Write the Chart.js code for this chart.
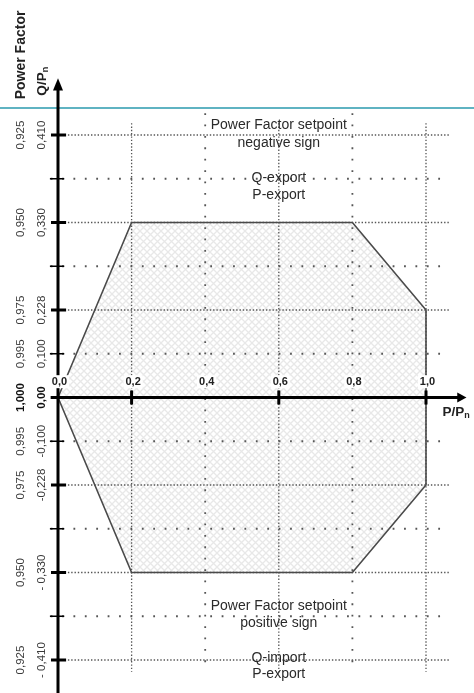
<!DOCTYPE html>
<html><head><meta charset="utf-8">
<script src="https://cdn.jsdelivr.net/npm/chart.js@4.4.1/dist/chart.umd.min.js"></script>
<style>html,body{margin:0;padding:0;background:#fff;overflow:hidden}</style>
</head><body>
<canvas id="c" width="474" height="693"></canvas>
<script>
// ---- data ----
const pTicks = [0, 0.2, 0.4, 0.6, 0.8, 1.0];
const pLabels = ['0,0', '0,2', '0,4', '0,6', '0,8', '1,0'];
const qTicks = [0.41, 0.33, 0.228, 0.1, 0, -0.1, -0.228, -0.33, -0.41];
const qLabels = ['0,410', '0,330', '0,228', '0,100', '0,00', '-0,100', '-0,228', '- 0,330', '- 0,410'];
const pfLabels = ['0,925', '0,950', '0,975', '0,995', '1,000', '0,995', '0,975', '0,950', '0,925'];
const polyP = [0, 0.2, 0.8, 1.0, 1.0, 0.8, 0.2, 0];
const polyQ = [0, 0.33, 0.33, 0.228, -0.228, -0.33, -0.33, 0];
// broken vertical axis: Q value -> grid step
const breakQ = [0, 0.1, 0.228, 0.33, 0.41];
const breakStep = [0, 1, 2, 4, 6];

function toStep(v) {
  const s = v < 0 ? -1 : 1, a = Math.abs(v);
  const n = breakQ.length;
  for (let i = 1; i < n; i++) {
    if (a <= breakQ[i] || i === n - 1) {
      const t = (a - breakQ[i - 1]) / (breakQ[i] - breakQ[i - 1]);
      return s * (breakStep[i - 1] + t * (breakStep[i] - breakStep[i - 1]));
    }
  }
}
function fromStep(r) {
  const s = r < 0 ? -1 : 1, a = Math.abs(r);
  const n = breakStep.length;
  for (let i = 1; i < n; i++) {
    if (a <= breakStep[i] || i === n - 1) {
      const t = (a - breakStep[i - 1]) / (breakStep[i] - breakStep[i - 1]);
      return s * (breakQ[i - 1] + t * (breakQ[i] - breakQ[i - 1]));
    }
  }
}

class BrokenScale extends Chart.LinearScale {
  getPixelForValue(v) {
    const r0 = toStep(this.min), r1 = toStep(this.max);
    return this.getPixelForDecimal((toStep(v) - r0) / (r1 - r0));
  }
  getValueForPixel(p) {
    const r0 = toStep(this.min), r1 = toStep(this.max);
    return fromStep(r0 + this.getDecimalForPixel(p) * (r1 - r0));
  }
}
BrokenScale.id = 'broken';
BrokenScale.defaults = Chart.LinearScale.defaults;
Chart.register(BrokenScale);

// hatch pattern
function makePattern() {
  const c = document.createElement('canvas');
  c.width = 7; c.height = 7;
  const g = c.getContext('2d');
  g.strokeStyle = 'rgba(120,120,120,0.17)';
  g.lineWidth = 1.3;
  g.beginPath();
  g.moveTo(-1, -1); g.lineTo(8, 8);
  g.moveTo(8, -1); g.lineTo(-1, 8);
  g.stroke();
  return document.getElementById('c').getContext('2d').createPattern(c, 'repeat');
}

const FONT = '"Liberation Sans", Arial, sans-serif';

const diagram = {
  id: 'diagram',
  beforeDatasetsDraw(chart) {
    const ctx = chart.ctx, xs = chart.scales.x, ys = chart.scales.y;
    const X = v => xs.getPixelForValue(v);
    const R = r => ys.getPixelForValue(fromStep(r));
    ctx.save();
    // horizontal dense lines
    ctx.strokeStyle = '#555'; ctx.lineWidth = 1.3;
    ctx.setLineDash([1.4, 1.9]);
    [6, 4, 2, -2, -4, -6].forEach(r => {
      const y = R(r);
      ctx.beginPath(); ctx.moveTo(X(0), y); ctx.lineTo(X(1.065), y); ctx.stroke();
    });
    // vertical dense lines
    [0.2, 0.6, 1.0].forEach(p => {
      const x = X(p);
      ctx.beginPath(); ctx.moveTo(x, R(6.27)); ctx.lineTo(x, R(-6.27)); ctx.stroke();
    });
    // sparse lines
    ctx.strokeStyle = '#555'; ctx.lineWidth = 1.8;
    ctx.setLineDash([1.8, 9.6]);
    [5, 3, 1, -1, -3, -5].forEach(r => {
      const y = R(r);
      ctx.beginPath(); ctx.moveTo(X(-0.02), y); ctx.lineTo(X(1.05), y); ctx.stroke();
    });
    [0.4, 0.8].forEach(p => {
      const x = X(p);
      ctx.beginPath(); ctx.moveTo(x, R(6.5)); ctx.lineTo(x, R(-6.27)); ctx.stroke();
    });
    ctx.restore();
  },
  afterDatasetsDraw(chart) {
    const ctx = chart.ctx, xs = chart.scales.x, ys = chart.scales.y;
    const X = v => xs.getPixelForValue(v);
    const Y = v => ys.getPixelForValue(v);
    const R = r => ys.getPixelForValue(fromStep(r));
    ctx.save();
    ctx.setLineDash([]);
    // teal separator line
    ctx.strokeStyle = '#2a9aae'; ctx.lineWidth = 1.5;
    ctx.beginPath(); ctx.moveTo(0, R(6.62)); ctx.lineTo(chart.width, R(6.62)); ctx.stroke();

    const x0 = X(0), y0 = Y(0);
    ctx.fillStyle = '#000'; ctx.strokeStyle = '#000';
    // y axis
    ctx.lineWidth = 3;
    ctx.beginPath(); ctx.moveTo(x0, chart.height); ctx.lineTo(x0, R(7.05)); ctx.stroke();
    ctx.beginPath();
    ctx.moveTo(x0, R(7.3)); ctx.lineTo(x0 - 5, R(7.02)); ctx.lineTo(x0 + 5, R(7.02)); ctx.closePath(); ctx.fill();
    // x axis
    ctx.beginPath(); ctx.moveTo(X(-0.02), y0); ctx.lineTo(X(1.09), y0); ctx.stroke();
    ctx.beginPath();
    ctx.moveTo(X(1.11), y0); ctx.lineTo(X(1.085), y0 - 5); ctx.lineTo(X(1.085), y0 + 5); ctx.closePath(); ctx.fill();
    // y ticks
    [6, 4, 2, -2, -4, -6].forEach(r => {
      ctx.lineWidth = 3;
      ctx.beginPath(); ctx.moveTo(X(-0.019), R(r)); ctx.lineTo(X(0.022), R(r)); ctx.stroke();
    });
    [5, 3, 1, -1, -3, -5].forEach(r => {
      ctx.lineWidth = 1.5;
      ctx.beginPath(); ctx.moveTo(X(-0.022), R(r)); ctx.lineTo(X(0.017), R(r)); ctx.stroke();
    });
    // x ticks
    [0.2, 0.6, 1.0].forEach(p => {
      ctx.lineWidth = 3;
      ctx.beginPath(); ctx.moveTo(X(p), y0 - 7); ctx.lineTo(X(p), y0 + 7); ctx.stroke();
    });

    // x tick labels
    ctx.font = 'bold 11px ' + FONT;
    ctx.textAlign = 'center'; ctx.textBaseline = 'middle';
    pTicks.forEach((p, i) => {
      const x = X(p) + 1.5, y = R(0.35);
      const w = ctx.measureText(pLabels[i]).width;
      ctx.fillStyle = '#fff';
      ctx.fillRect(x - w / 2 - 2, y - 7, w + 4, 13);
      ctx.fillStyle = '#222';
      ctx.fillText(pLabels[i], x, y);
    });

    // y tick labels (rotated)
    const rotText = (txt, x, y, font, color) => {
      ctx.save();
      ctx.translate(x, y); ctx.rotate(-Math.PI / 2);
      ctx.font = font; ctx.fillStyle = color;
      ctx.textAlign = 'center'; ctx.textBaseline = 'middle';
      ctx.fillText(txt, 0, 0);
      ctx.restore();
    };
    qTicks.forEach((q, i) => {
      const bold = q === 0;
      const f = (bold ? 'bold ' : '') + '11.5px ' + FONT;
      const c = bold ? '#111' : '#3a3a3a';
      rotText(qLabels[i], X(-0.0435), Y(q), f, c);
      rotText(pfLabels[i], X(-0.1005), Y(q), f, c);
    });

    // axis titles
    rotText('Power Factor', X(-0.1005), R(7.83), 'bold 14px ' + FONT, '#222');
    ctx.save();
    ctx.translate(X(-0.0435), R(6.9));
    ctx.rotate(-Math.PI / 2);
    ctx.fillStyle = '#222';
    ctx.textAlign = 'left'; ctx.textBaseline = 'middle';
    ctx.font = 'bold 13.5px ' + FONT;
    const wq = ctx.measureText('Q/P').width;
    ctx.fillText('Q/P', 0, 0);
    ctx.font = 'bold 9px ' + FONT;
    ctx.fillText('n', wq, 4);
    ctx.restore();

    ctx.fillStyle = '#222';
    ctx.textAlign = 'left'; ctx.textBaseline = 'middle';
    ctx.font = 'bold 13.5px ' + FONT;
    const xp = X(1.045), yp = R(-0.33);
    const wp = ctx.measureText('P/P').width;
    ctx.fillText('P/P', xp, yp);
    ctx.font = 'bold 9px ' + FONT;
    ctx.fillText('n', xp + wp, yp + 4);

    // region annotations
    ctx.font = '14px ' + FONT;
    ctx.fillStyle = '#2a2a2a';
    ctx.textAlign = 'center';
    const xc = X(0.6);
    [['Power Factor setpoint', 6.23], ['negative sign', 5.82], ['Q-export', 5.02], ['P-export', 4.63],
     ['Power Factor setpoint', -4.77], ['positive sign', -5.15], ['Q-import', -5.95], ['P-export', -6.32]]
      .forEach(([t, r]) => ctx.fillText(t, xc, R(r)));
    ctx.restore();
  }
};

const rowTop = 397.5 / 43.75, rowBottom = -(693 - 397.5) / 43.75;

new Chart(document.getElementById('c'), {
  type: 'line',
  data: {
    datasets: [{
      data: polyP.map((p, i) => ({ x: p, y: polyQ[i] })),
      borderColor: '#4a4a4a',
      borderWidth: 1.6,
      backgroundColor: makePattern(),
      fill: 'shape',
      pointRadius: 0,
      tension: 0
    }]
  },
  options: {
    responsive: false,
    devicePixelRatio: 1,
    animation: false,
    layout: { padding: 0 },
    plugins: { legend: { display: false }, tooltip: { enabled: false } },
    scales: {
      x: { type: 'linear', min: -58 / 368, max: 416 / 368, display: false },
      y: { type: 'broken', min: fromStep(rowBottom), max: fromStep(rowTop), display: false }
    }
  },
  plugins: [diagram]
});
</script>
</body></html>
